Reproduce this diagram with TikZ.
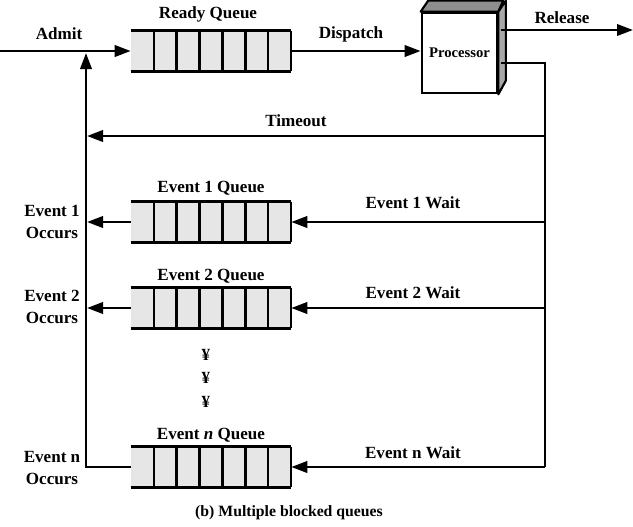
\documentclass[tikz,border=0pt]{standalone}
\usepackage{fontspec}
\setmainfont{Liberation Serif}
\usetikzlibrary{arrows.meta,calc}
\definecolor{qgray}{HTML}{E6E6E6}
\definecolor{topgray}{HTML}{8E8E8E}
\definecolor{sidegray}{HTML}{A8A8A8}
\newcommand\qlines[1]{%
  \draw[qedge] (#1.north west) -- (#1.north east) (#1.south west) -- (#1.south east);
  \foreach \i in {1,...,7}
    \draw[qdiv] ($(#1.north west)!\i/7!(#1.north east)$) -- ($(#1.south west)!\i/7!(#1.south east)$);
}
\begin{document}
\begin{tikzpicture}[x=0.75pt,y=-0.75pt,
  conn/.style={line width=2pt},
  arr/.style={conn,-{Triangle[length=12pt,width=8.5pt]}},
  lbl/.style={font=\bfseries\fontsize{12.8}{17}\selectfont, inner sep=0pt, align=center},
  queue/.style={fill=qgray, minimum width=120pt, minimum height=30pt, inner sep=0pt, draw=none},
  qedge/.style={line width=2.2pt},
  qdiv/.style={line width=1.7pt},
]
\useasboundingbox (0,0) rectangle (633,526);

% queues
\node[queue] (rq) at (211,51) {};
\node[queue] (q1) at (211,222) {};
\node[queue] (q2) at (211,308) {};
\node[queue] (qn) at (211,467) {};
\qlines{rq}\qlines{q1}\qlines{q2}\qlines{qn}

% processor
\node[draw, line width=2pt, fill=white, minimum width=56.25pt, minimum height=60pt,
      inner sep=0pt, font=\bfseries\fontsize{11}{13}\selectfont] (proc) at (459.5,53) {Processor};
\draw[line width=1.6pt, fill=topgray, line join=round]
  (proc.north west) -- ++(7.5,-11) -- ++(75,0) -- (proc.north east) -- cycle;
\draw[line width=1.6pt, fill=sidegray, line join=round]
  (proc.north east) -- ++(7.5,-11) -- ++(0,80) -- (proc.south east) -- cycle;

% coordinates
\coordinate (in) at (0,51);
\coordinate (relS) at (501,30);
\coordinate (relE) at (633,30);
\coordinate (outS) at (501,63);
\coordinate (busT) at (545,63);
\coordinate (busB) at (545,467);
\coordinate (to) at (545,136);
\coordinate (toE) at (87,136);
\coordinate (w1) at (545,222);
\coordinate (w2) at (545,308);
\coordinate (o1) at (87,222);
\coordinate (o2) at (87,308);
\coordinate (on) at (86,467);
\coordinate (adm) at (86,53);

% connectors
\draw[arr] (in) -- (rq.west);
\draw[arr] (rq.east) -- (proc.west |- rq.east);
\draw[arr] (relS) -- (relE);
\draw[conn, line join=miter] (outS) -- (busT) -- (busB);
\draw[arr] (to) -- (toE);
\draw[arr] (w1) -- (q1.east);
\draw[arr] (w2) -- (q2.east);
\draw[arr] (busB) -- (qn.east);
\draw[arr] (q1.west) -- (o1);
\draw[arr] (q2.west) -- (o2);
\draw[arr, line join=miter] (qn.west) -- (on) -- (adm);

% labels
\node[lbl] (lAdmit) at (59,34) {Admit};
\node[lbl] (lRQ) at (208,14) {Ready Queue};
\node[lbl] (lDisp) at (351,34) {Dispatch};
\node[lbl] (lRel) at (562,18) {Release};
\node[lbl] (lTO) at (296,121) {Timeout};
\node[lbl] (lQ1) at (211,188) {Event 1 Queue};
\node[lbl] (lQ2) at (211,276) {Event 2 Queue};
\node[lbl] (lQn) at (211,435) {Event \textit{n} Queue};
\node[lbl] (lW1) at (413,203) {Event 1 Wait};
\node[lbl] (lW2) at (413,293) {Event 2 Wait};
\node[lbl] (lWn) at (413,453) {Event n Wait};
\node[lbl] (lO1) at (52,222) {Event 1\\Occurs};
\node[lbl] (lO2) at (52,307) {Event 2\\Occurs};
\node[lbl] (lOn) at (52,468) {Event n\\Occurs};
\node[lbl] (d1) at (206,355) {¥};
\node[lbl] (d2) at (206,378) {¥};
\node[lbl] (d3) at (206,402) {¥};
\node[lbl, font=\bfseries\fontsize{11.8}{14}\selectfont] (cap) at (289,513) {(b) Multiple blocked queues};
\end{tikzpicture}
\end{document}
